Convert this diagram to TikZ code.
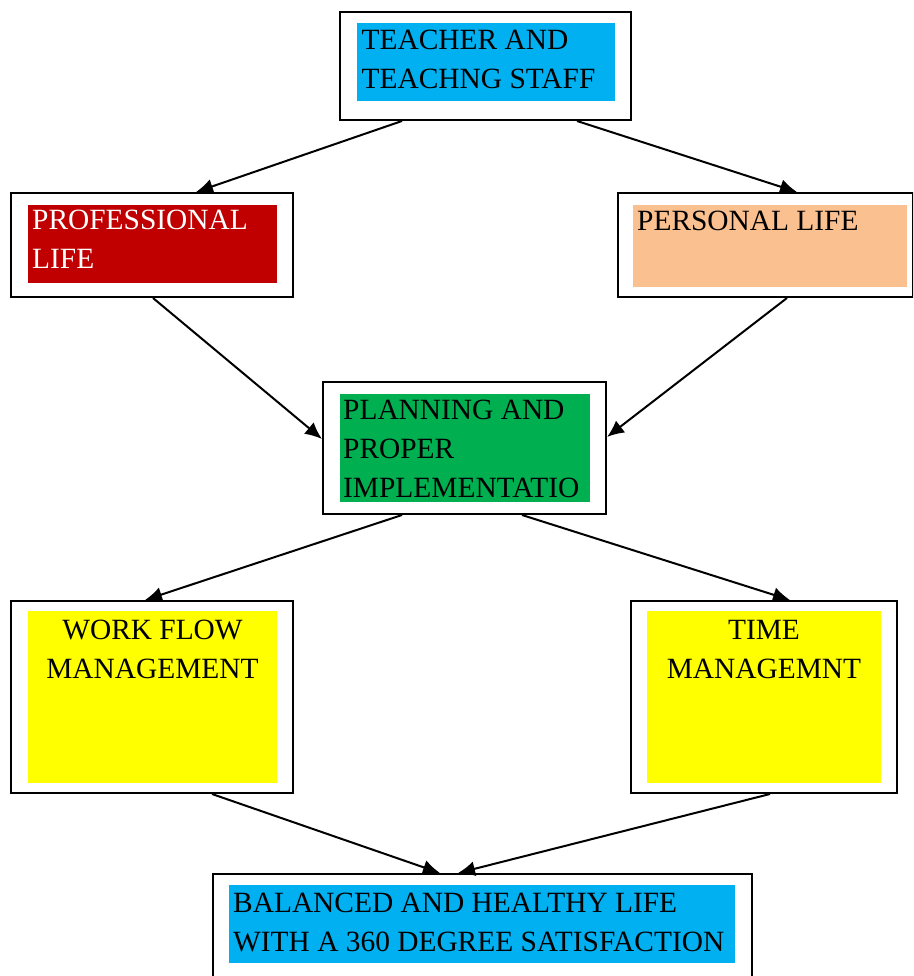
\documentclass[tikz,border=0pt]{standalone}
\usepackage{fontspec}
\setmainfont{Liberation Serif}
\usepackage{tikz}
\usetikzlibrary{positioning,arrows.meta}

\definecolor{skyfill}{HTML}{00B0F0}
\definecolor{redfill}{HTML}{C00000}
\definecolor{peachfill}{HTML}{FAC090}
\definecolor{greenfill}{HTML}{00B050}
\definecolor{yellowfill}{HTML}{FFFF00}

\tikzset{
  outerbox/.style={rectangle, draw=black, line width=2pt, fill=white, inner sep=0pt},
  fillbox/.style={rectangle, anchor=north west, inner sep=0pt, draw=none},
  boxtext/.style={inner sep=0pt, font=\fontsize{29.4}{39}\selectfont, text=black},
  flowarrow/.style={draw=black, line width=2pt, -{Latex[length=17pt,width=15pt]}}
}

\begin{document}
\begin{tikzpicture}[x=1pt, y=-1pt]
    \useasboundingbox (0,0) rectangle (913,976);
    \clip (0,0) rectangle (913,976);

    % outer frames
    \node[outerbox, minimum width=291, minimum height=108] (teacher) at (485.5,66) {};
    \node[outerbox, minimum width=282, minimum height=104] (prof) at (152,245) {};
    \node[outerbox, minimum width=295, minimum height=104] (pers) at (765,245) {};
    \node[outerbox, minimum width=283, minimum height=132] (plan) at (464.5,448) {};
    \node[outerbox, minimum width=282, minimum height=192] (work) at (152,697) {};
    \node[outerbox, minimum width=266, minimum height=192] (time) at (764,697) {};
    \node[outerbox, minimum width=539, minimum height=130] (bal) at (482.5,939) {};

    % coloured panels
    \node[fillbox, fill=skyfill, minimum width=258, minimum height=78] (teacherfill) at (357,23) {};
    \node[fillbox, fill=redfill, minimum width=249, minimum height=78] (proffill) at (28,205) {};
    \node[fillbox, fill=peachfill, minimum width=274, minimum height=82] (persfill) at (633,205) {};
    \node[fillbox, fill=greenfill, minimum width=250, minimum height=108] (planfill) at (340,394) {};
    \node[fillbox, fill=yellowfill, minimum width=249, minimum height=172] (workfill) at (28,611) {};
    \node[fillbox, fill=yellowfill, minimum width=234, minimum height=172] (timefill) at (647,611) {};
    \node[fillbox, fill=skyfill, minimum width=506, minimum height=78] (balfill) at (229,885) {};

    % texts
    \node[boxtext, anchor=north west, align=left] (teachertxt) at (361.5,30) {TEACHER AND\\TEACHNG STAFF};
    \node[boxtext, anchor=north west, align=left, text=white] (proftxt) at (32,210) {PROFESSIONAL\\LIFE};
    \node[boxtext, anchor=north west, align=left] (perstxt) at (637,211) {PERSONAL LIFE};
    \node[boxtext, anchor=north west, align=left] (plantxt) at (343,400) {PLANNING AND\\PROPER\\IMPLEMENTATIO};
    \node[boxtext, anchor=north, align=center] (worktxt) at (152.5,620) {WORK FLOW\\MANAGEMENT};
    \node[boxtext, anchor=north, align=center] (timetxt) at (764,620) {TIME\\MANAGEMNT};
    \node[boxtext, anchor=north west, align=left] (baltxt) at (233,893) {BALANCED AND HEALTHY LIFE\\WITH A 360 DEGREE SATISFACTION};

    % connectors
    \draw[flowarrow] ([xshift=-83.5pt]teacher.south) -- ([xshift=44pt]prof.north);
    \draw[flowarrow] ([xshift=91.5pt]teacher.south) -- ([xshift=32pt]pers.north);
    \draw[flowarrow] ([xshift=1pt]prof.south) -- ([yshift=9pt]plan.west);
    \draw[flowarrow] ([xshift=22pt]pers.south) -- ([yshift=11pt]plan.east);
    \draw[flowarrow] ([xshift=-62.5pt]plan.south) -- ([xshift=-7pt]work.north);
    \draw[flowarrow] ([xshift=57.5pt]plan.south) -- ([xshift=26pt]time.north);
    \draw[flowarrow] ([xshift=60pt]work.south) -- ([xshift=-42.5pt]bal.north);
    \draw[flowarrow] ([xshift=6pt]time.south) -- ([xshift=-24.5pt]bal.north);
\end{tikzpicture}
\end{document}
